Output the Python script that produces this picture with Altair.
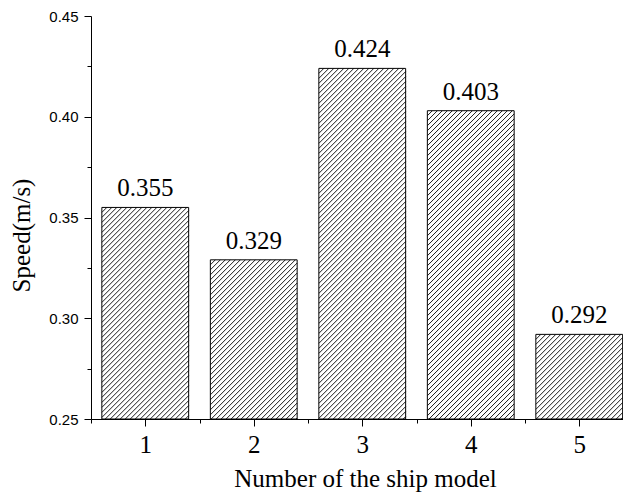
import altair as alt
import pandas as pd

# ---- data ----
models = [1, 2, 3, 4, 5]
speeds = [0.355, 0.329, 0.424, 0.403, 0.292]
labels = ["0.355", "0.329", "0.424", "0.403", "0.292"]
x_major = [1, 2, 3, 4, 5]
x_minor = [0.5, 1.5, 2.5, 3.5, 4.5]
y_major = [0.25, 0.30, 0.35, 0.40, 0.45]
y_minor = [0.275, 0.325, 0.375, 0.425]

df = pd.DataFrame({"model": models, "speed": speeds, "label": labels})

# ---- layout / style ----
W, H = 532, 403
STEP_PX = 108.5
XMIN = 0.5
XMAX = 0.5 + W / STEP_PX
YMIN, YMAX = 0.25, 0.45
PX = W / (XMAX - XMIN)          # pixels per x unit
PY = H / (YMAX - YMIN)          # pixels per y unit
HALF = 0.4                      # half bar width (x units)
BW = 2 * HALF * PX              # bar width in pixels
STEP = 5                        # hatch spacing in pixels

SERIF = "Liberation Serif, Times New Roman, serif"
SANS = "Liberation Sans, Arial, sans-serif"

xs = alt.Scale(domain=[XMIN, XMAX], nice=False, zero=False)
ys = alt.Scale(domain=[YMIN, YMAX], nice=False, zero=False)

# diagonal hatch lines, computed from the bar values through the scales
hatch = (
    alt.Chart(df)
    .transform_calculate(k="sequence(0, 120)")
    .transform_flatten(["k"])
    .transform_calculate(hh=f"(datum.speed - {YMIN}) * {PY}")
    .transform_calculate(c=f"datum.k * {STEP} - datum.hh")
    .transform_filter(f"datum.c < {BW}")
    .transform_calculate(h0="max(0, -datum.c)")
    .transform_calculate(h1=f"min(datum.hh, {BW} - datum.c)")
    .transform_filter("datum.h1 > datum.h0")
    .transform_calculate(
        hx0=f"datum.model - {HALF} + (datum.c + datum.h0) / {PX}",
        hx1=f"datum.model - {HALF} + (datum.c + datum.h1) / {PX}",
        hy0=f"{YMIN} + datum.h0 / {PY}",
        hy1=f"{YMIN} + datum.h1 / {PY}",
    )
    .mark_rule(color="black", strokeWidth=0.9)
    .encode(
        x=alt.X("hx0:Q", scale=xs, axis=None),
        x2="hx1:Q",
        y=alt.Y("hy0:Q", scale=ys, axis=None),
        y2="hy1:Q",
    )
)

bars = (
    alt.Chart(df)
    .transform_calculate(x0=f"datum.model - {HALF}", x1=f"datum.model + {HALF}")
    .mark_bar(fillOpacity=0, stroke="black", strokeWidth=1)
    .encode(
        x=alt.X(
            "x0:Q",
            scale=xs,
            axis=alt.Axis(
                orient="bottom",
                values=x_major,
                format="d",
                grid=False,
                tickSize=7,
                tickColor="black",
                tickWidth=1,
                domainColor="black",
                domainWidth=1,
                labelFont=SERIF,
                labelFontSize=25,
                labelColor="black",
                labelBaseline="alphabetic",
                labelPadding=26,
                title="Number of the ship model",
                titleFont=SERIF,
                titleFontSize=25,
                titleFontWeight="normal",
                titleColor="black",
                titleBaseline="alphabetic",
                titleX=274,
                titleY=67,
            ),
        ),
        x2="x1:Q",
        y=alt.Y(
            "speed:Q",
            scale=ys,
            axis=alt.Axis(
                orient="left",
                values=y_major,
                format=".2f",
                grid=False,
                tickSize=7,
                tickColor="black",
                tickWidth=1,
                domainColor="black",
                domainWidth=1,
                labelFont=SANS,
                labelFontSize=15,
                labelColor="black",
                labelPadding=6,
                title="Speed(m/s)",
                titleFont=SERIF,
                titleFontSize=25,
                titleFontWeight="normal",
                titleColor="black",
                titleBaseline="alphabetic",
                titleAngle=270,
                titleX=-62,
                titleY=219,
            ),
        ),
        y2=alt.datum(YMIN),
    )
)

text = (
    alt.Chart(df)
    .mark_text(font=SERIF, fontSize=25, dy=-11, baseline="alphabetic", color="black")
    .encode(
        x=alt.X(
            "model:Q",
            scale=xs,
            axis=alt.Axis(
                orient="bottom", values=x_minor, labels=False, domain=False,
                grid=False, tickSize=4, tickColor="black", tickWidth=1, title="",
            ),
        ),
        y=alt.Y(
            "speed:Q",
            scale=ys,
            axis=alt.Axis(
                orient="left", values=y_minor, labels=False, domain=False,
                grid=False, tickSize=4, tickColor="black", tickWidth=1, title="",
            ),
        ),
        text="label:N",
    )
)

chart = (
    alt.layer(hatch, bars, text)
    .resolve_axis(x="independent", y="independent")
    .properties(
        width=W,
        height=H,
        autosize=alt.AutoSizeParams(type="none"),
        padding={"left": 83, "top": 8, "right": 0, "bottom": 73},
        background="white",
    )
    .configure_view(stroke=None)
    .configure_text(font=SERIF)
)

chart.save("out.html", embed_options={"renderer": "svg", "actions": False})
